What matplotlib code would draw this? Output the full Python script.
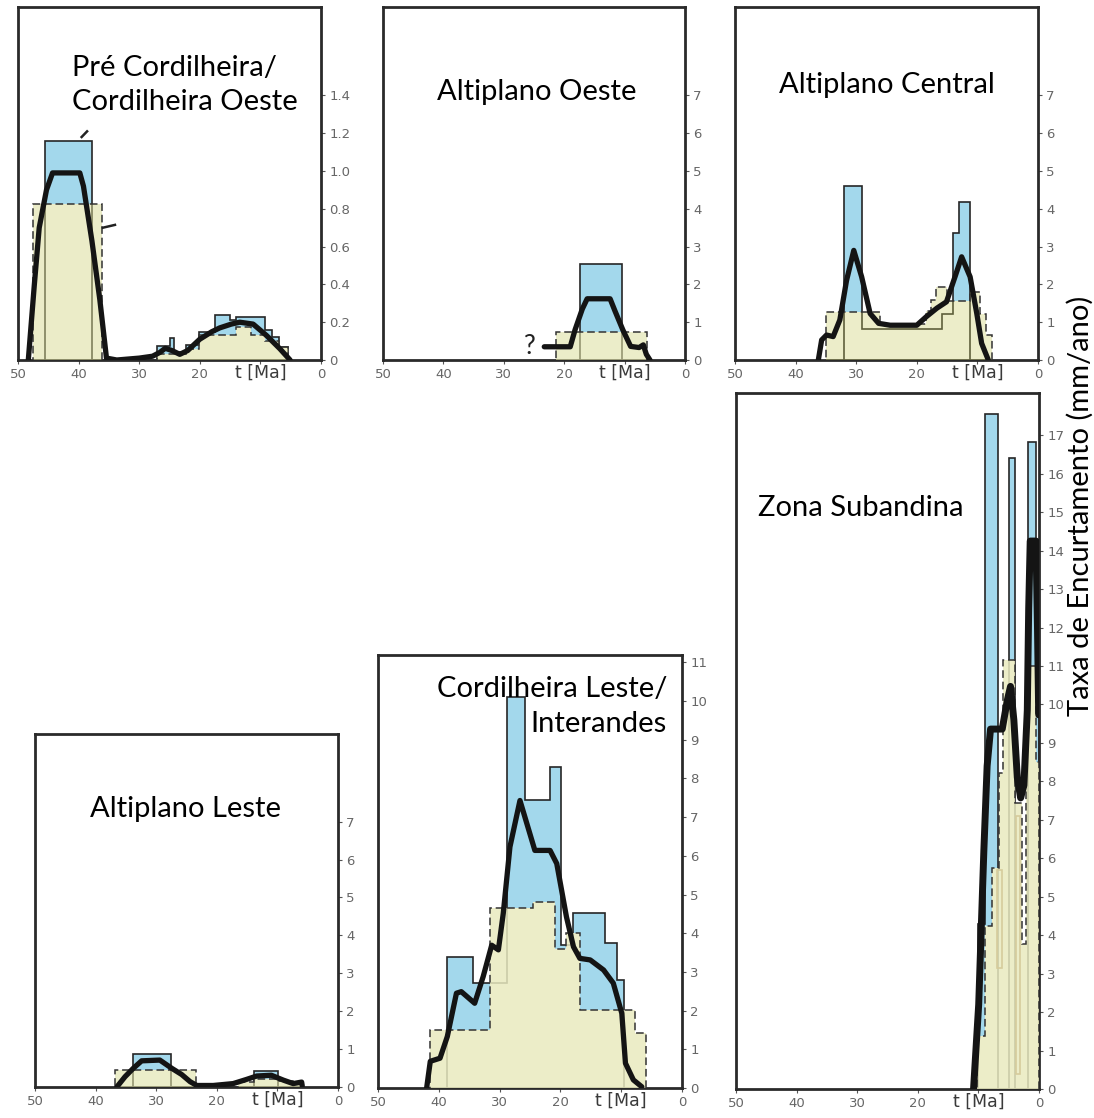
import numpy as np
import matplotlib.pyplot as plt
from matplotlib.patches import Rectangle

# shortening rates (mm/ano) per region; histogram edges in Ma (ascending)
pre_blue_edges = [5.4, 7.0, 8.1, 9.2, 14.0, 15.0, 17.5, 20.2, 22.2, 24.3, 24.9, 27.0, 37.8, 45.5]
pre_blue_rate = [0.07, 0.12, 0.16, 0.225, 0.21, 0.24, 0.15, 0.08, 0.04, 0.115, 0.075, 0, 1.16]
pre_yel_edges = [5.4, 7.0, 9.2, 11.5, 14.0, 20.2, 22.2, 27.0, 36.1, 47.6]
pre_yel_rate = [0.07, 0.1, 0.13, 0.175, 0.13, 0.06, 0.03, 0, 0.824]
pre_curve_t = [48.3, 47.3, 46.5, 45.3, 44.3, 39.8, 39.2, 37.8, 36.5, 35.4, 33.7, 30.0, 27.8,
               26.6, 25.7, 24.6, 23.3, 22.0, 20.0, 18.0, 16.7, 14.8, 13.4, 11.2, 9.0, 6.8, 5.1]
pre_curve_r = [0, 0.4, 0.7, 0.9, 0.99, 0.99, 0.92, 0.63, 0.32, 0.01, 0.0, 0.01, 0.02,
               0.04, 0.062, 0.05, 0.03, 0.05, 0.11, 0.15, 0.17, 0.19, 0.2, 0.19, 0.13, 0.06, 0.0]
pre_frag_t = [[39.5, 38.6], [36.0, 34.0]]
pre_frag_r = [[1.18, 1.21], [0.70, 0.715]]

alo_blue_edges = [10.4, 17.4]
alo_blue_rate = [2.53]
alo_yel_edges = [6.35, 21.4]
alo_yel_rate = [0.73]
alo_curve_t = [23.3, 19.0, 18.2, 17.0, 16.2, 12.4, 11.6, 10.3, 9.0, 7.6, 6.9, 6.4, 5.8]
alo_curve_r = [0.35, 0.35, 0.8, 1.35, 1.62, 1.62, 1.3, 0.8, 0.36, 0.33, 0.4, 0.15, 0.0]

alc_blue_edges = [11.2, 13.1, 14.1, 15.9, 29.0, 32.0]
alc_blue_rate = [4.19, 3.37, 1.23, 0.81, 4.6]
alc_yel_edges = [7.6, 8.6, 9.6, 11.2, 15.0, 16.8, 17.6, 18.5, 26.1, 35.0]
alc_yel_rate = [0.65, 1.23, 1.8, 1.55, 1.92, 1.6, 1.3, 0.95, 1.27]
alc_curve_t = [36.25, 35.7, 34.9, 33.8, 32.7, 31.6, 30.4, 29.1, 27.7, 26.3, 24.4, 20.0,
               18.4, 16.7, 15.1, 13.7, 12.6, 11.2, 10.1, 9.3, 8.2]
alc_curve_r = [0, 0.53, 0.66, 0.62, 1.06, 2.1, 2.9, 2.2, 1.23, 0.97, 0.92, 0.92,
               1.15, 1.37, 1.54, 2.2, 2.73, 2.2, 1.23, 0.44, 0]

ale_blue_edges = [9.9, 13.9, 27.5, 33.9]
ale_blue_rate = [0.42, 0, 0.86]
ale_yel_edges = [5.8, 7.5, 9.9, 13.9, 16.5, 23.4, 36.8]
ale_yel_rate = [0.1, 0.15, 0.22, 0.12, 0, 0.45]
ale_curve_t = [36.5, 35.15, 33.8, 32.4, 29.4, 27.4, 25.8, 24.4, 23.3, 20.6, 17.3,
               15.1, 13.4, 11.0, 9.0, 7.4, 6.0, 5.9]
ale_curve_r = [0, 0.27, 0.49, 0.69, 0.71, 0.49, 0.33, 0.14, 0.04, 0.04, 0.09,
               0.2, 0.29, 0.31, 0.18, 0.09, 0.13, 0.03]

cle_blue_edges = [9.6, 10.7, 12.65, 17.85, 19.95, 21.7, 25.8, 28.85, 34.45, 38.6]
cle_blue_rate = [2.79, 3.74, 4.53, 3.7, 8.29, 7.43, 10.1, 2.72, 3.38]
cle_yel_edges = [5.9, 7.7, 16.7, 19.0, 20.9, 24.45, 31.6, 41.5]
cle_yel_rate = [1.42, 2.02, 4.0, 3.6, 4.81, 4.64, 1.5]
cle_curve_t = [42.0, 41.4, 39.8, 38.6, 37.1, 36.3, 34.1, 32.7, 31.3, 30.2, 29.4, 28.3,
               26.65, 24.2, 21.7, 20.6, 19.0, 17.85, 16.8, 15.1, 12.9, 11.3, 9.9, 9.3,
               8.0, 6.6]
cle_curve_r = [0, 0.69, 0.77, 1.33, 2.45, 2.49, 2.19, 2.88, 3.69, 3.57, 4.51, 6.23,
               7.43, 6.14, 6.14, 5.8, 4.42, 3.65, 3.35, 3.31, 3.05, 2.71, 1.93, 0.64,
               0.21, 0.03]

zsa_blue_edges = [0, 0.55, 1.82, 3.98, 4.97, 6.75, 8.84, 10.0]
zsa_blue_rate = [9.8, 16.82, 0, 16.4, 0, 17.55, 4.3]
zsa_yel_edges = [0, 0.55, 2.2, 2.75, 4.0, 5.9, 6.63, 7.74, 8.84, 10.3]
zsa_yel_rate = [8.5, 11.0, 3.76, 7.45, 11.15, 8.23, 5.76, 4.24, 1.37]
zsa_curve_t = [10.8, 9.95, 9.1, 8.56, 8.0, 6.9, 6.07, 5.24, 4.7, 4.15, 3.58, 3.03,
               2.49, 1.93, 1.7, 1.45, 0.5, 0.25, 0.05]
zsa_curve_r = [0, 2.2, 6.2, 8.4, 9.36, 9.36, 9.36, 10.1, 10.47, 9.6, 8.1, 7.57,
               7.9, 9.85, 12.5, 14.25, 14.25, 12.0, 9.73]
zsa_min_t0 = [6.9, 3.8]
zsa_min_t1 = [6.1, 3.2]
zsa_min_lo = [3.15, 0.4]
zsa_min_hi = [5.7, 7.1]

BLUE = '#a3d8ec'
YELLOW = np.array([236, 237, 201]) / 255
EDGE = '#262626'
TITLE_FONT = ['Lato', 'DejaVu Sans']
TITLE_SIZE = 21

W, H = 1094, 1118


def step_at(edges, vals, t):
    edges = np.asarray(edges, float)
    vals = np.asarray(vals, float)
    idx = np.searchsorted(edges, t, side='right') - 1
    ok = (idx >= 0) & (idx < len(vals))
    out = np.zeros_like(t, dtype=float)
    out[ok] = vals[idx[ok]]
    return out


def yellow_for(alpha):
    # face colour that gives the pale yellow once blended over white
    return tuple(np.clip((YELLOW - (1 - alpha)) / alpha, 0, 1))


def add_panel(box, ylim, yticks, ylabels):
    left, right, top, bottom = box
    ax = fig.add_axes([left / W, 1 - bottom / H, (right - left) / W, (bottom - top) / H])
    ax.set_xlim(50, 0)
    ax.set_ylim(0, ylim)
    ax.yaxis.tick_right()
    ax.set_yticks(yticks)
    ax.set_yticklabels(ylabels)
    ax.set_xticks([50, 40, 30, 20, 10, 0])
    ax.set_xticklabels(['50', '40', '30', '20', '', '0'])
    ax.tick_params(direction='out', length=3, width=0.8, color='#555',
                   labelcolor='#666', labelsize=9.5, pad=3)
    for s in ax.spines.values():
        s.set_linewidth(2.0)
        s.set_color('#2a2a2a')
    ax.annotate('t [Ma]', xy=(10, 0), xycoords=('data', 'axes fraction'),
                xytext=(0, -3), textcoords='offset points', ha='center', va='top',
                fontsize=12.5, color='#3a3a3a')
    return ax


def draw_rates(ax, b_edges, b_rate, y_edges, y_rate, t, r, yel_alpha=0.6, lw=3.8):
    merged = np.union1d(b_edges, y_edges)
    mid = (merged[:-1] + merged[1:]) / 2
    b = step_at(b_edges, b_rate, mid)
    y = step_at(y_edges, y_rate, mid)
    # blue only where it rises above the yellow histogram
    ax.stairs(np.maximum(b, y), merged, baseline=y, fill=True, color=BLUE, lw=0, zorder=1)
    ax.stairs(b_rate, b_edges, baseline=0, fill=False, color=EDGE, lw=1.2, zorder=2)
    ax.stairs(y_rate, y_edges, baseline=0, fill=True, color=yellow_for(yel_alpha),
              alpha=yel_alpha, lw=0, zorder=3)
    ax.stairs(y_rate, y_edges, baseline=0, fill=False, color='#333333', lw=1.1,
              linestyle=(0, (5, 2.5)), zorder=4)
    ax.plot(t, r, color='#141414', lw=lw, solid_joinstyle='round',
            solid_capstyle='round', zorder=5)


fig = plt.figure(figsize=(W / 100, H / 100), dpi=100)

seven = list(range(8))
seven_lab = [str(v) for v in seven]

ax1 = add_panel((18, 321, 7, 360), 1.868, np.arange(0, 1.41, 0.2),
                ['0', '0.2', '0.4', '0.6', '0.8', '1.0', '1.2', '1.4'])
draw_rates(ax1, pre_blue_edges, pre_blue_rate, pre_yel_edges, pre_yel_rate,
           pre_curve_t, pre_curve_r, yel_alpha=0.5)
for ft, fr in zip(pre_frag_t, pre_frag_r):
    ax1.plot(ft, fr, color='#222', lw=1.8, zorder=5)
ax1.text(0.178, 0.708, 'Pré Cordilheira/\nCordilheira Oeste', transform=ax1.transAxes,
         ha='left', va='baseline', fontsize=TITLE_SIZE, family=TITLE_FONT,
         linespacing=1.4)

ax2 = add_panel((383, 685, 7, 360), 9.34, seven, seven_lab)
draw_rates(ax2, alo_blue_edges, alo_blue_rate, alo_yel_edges, alo_yel_rate,
           alo_curve_t, alo_curve_r)
ax2.text(25.7, 0.35, '?', ha='center', va='center', fontsize=19, family=TITLE_FONT,
         color='#222')
ax2.text(0.509, 0.737, 'Altiplano Oeste', transform=ax2.transAxes, ha='center',
         va='baseline', fontsize=TITLE_SIZE, family=TITLE_FONT)

ax3 = add_panel((735, 1038, 7, 360), 9.34, seven, seven_lab)
draw_rates(ax3, alc_blue_edges, alc_blue_rate, alc_yel_edges, alc_yel_rate,
           alc_curve_t, alc_curve_r, yel_alpha=0.35)
ax3.text(0.502, 0.756, 'Altiplano Central', transform=ax3.transAxes, ha='center',
         va='baseline', fontsize=TITLE_SIZE, family=TITLE_FONT)

ax4 = add_panel((35, 338, 734, 1087), 9.31, seven, seven_lab)
draw_rates(ax4, ale_blue_edges, ale_blue_rate, ale_yel_edges, ale_yel_rate,
           ale_curve_t, ale_curve_r)
ax4.text(0.498, 0.766, 'Altiplano Leste', transform=ax4.transAxes, ha='center',
         va='baseline', fontsize=TITLE_SIZE, family=TITLE_FONT)

ax5 = add_panel((378, 682, 655, 1088), 11.19, list(range(12)), [str(v) for v in range(12)])
draw_rates(ax5, cle_blue_edges, cle_blue_rate, cle_yel_edges, cle_yel_rate,
           cle_curve_t, cle_curve_r, yel_alpha=0.85)
ax5.text(0.951, 0.823, 'Cordilheira Leste/\nInterandes', transform=ax5.transAxes,
         ha='right', va='baseline', multialignment='right', fontsize=TITLE_SIZE,
         family=TITLE_FONT, linespacing=1.4)

ax6 = add_panel((736, 1039, 393, 1089), 18.1, list(range(18)), [str(v) for v in range(18)])
draw_rates(ax6, zsa_blue_edges, zsa_blue_rate, zsa_yel_edges, zsa_yel_rate,
           zsa_curve_t, zsa_curve_r, yel_alpha=0.85, lw=5)
for t0, t1, lo, hi in zip(zsa_min_t0, zsa_min_t1, zsa_min_lo, zsa_min_hi):
    ax6.add_patch(Rectangle((t1, lo), t0 - t1, hi - lo, fill=False, ec='#d6cc9c',
                            lw=1.2, zorder=3.5))
ax6.text(0.073, 0.823, 'Zona Subandina', transform=ax6.transAxes, ha='left',
         va='baseline', fontsize=TITLE_SIZE, family=TITLE_FONT)

fig.text(1080 / W, 1 - 506 / H, 'Taxa de Encurtamento (mm/ano)', rotation=90,
         ha='center', va='center', fontsize=21, family=TITLE_FONT)

fig.savefig('out.png', dpi=100)
